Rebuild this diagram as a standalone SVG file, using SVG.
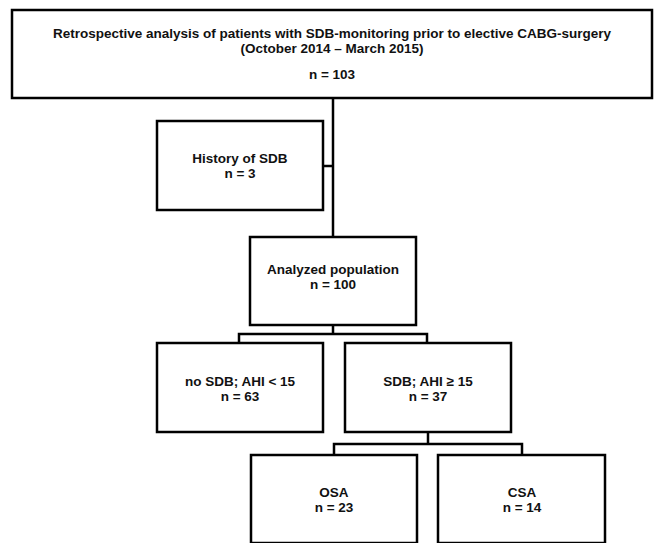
<svg xmlns="http://www.w3.org/2000/svg" width="655" height="543" viewBox="0 0 655 543">
<style>
.box{fill:#fff;stroke:#000;stroke-width:2.5}
.t{font-family:"Liberation Sans",Arial,sans-serif;font-weight:bold;font-size:13.5px;fill:#111;text-anchor:middle}
.c{fill:none;stroke:#000;stroke-width:2.5}
</style>
<rect width="655" height="543" fill="#fff"/>
<g id="connectors">
<path class="c" d="M333 98V237"/>
<path class="c" d="M323 166H333"/>
<path class="c" d="M333 325V334H239V343M333 334H427V343"/>
<path class="c" d="M428 432V444H334V455M428 444H522V455"/>
</g>
<g id="n-top">
<rect class="box" x="12" y="10" width="640" height="88"/>
<text class="t" x="332" y="38">Retrospective analysis of patients with SDB-monitoring prior to elective CABG-surgery</text>
<text class="t" x="332" y="53">(October 2014 – March 2015)</text>
<text class="t" x="332" y="79">n = 103</text>
</g>
<g id="n-history">
<rect class="box" x="157" y="121" width="166" height="89"/>
<text class="t" x="240" y="163">History of SDB</text>
<text class="t" x="240" y="178">n = 3</text>
</g>
<g id="n-analyzed">
<rect class="box" x="250" y="237" width="166" height="88"/>
<text class="t" x="333" y="274">Analyzed population</text>
<text class="t" x="333" y="289">n = 100</text>
</g>
<g id="n-nosdb">
<rect class="box" x="157" y="343" width="166" height="89"/>
<text class="t" x="240" y="386">no SDB; AHI &lt; 15</text>
<text class="t" x="240" y="401">n = 63</text>
</g>
<g id="n-sdb">
<rect class="box" x="345" y="343" width="166" height="89"/>
<text class="t" x="428" y="386">SDB; AHI ≥ 15</text>
<text class="t" x="428" y="401">n = 37</text>
</g>
<g id="n-osa">
<rect class="box" x="251" y="455" width="166" height="88"/>
<text class="t" x="334" y="497">OSA</text>
<text class="t" x="334" y="512">n = 23</text>
</g>
<g id="n-csa">
<rect class="box" x="438" y="455" width="167" height="88"/>
<text class="t" x="522" y="497">CSA</text>
<text class="t" x="522" y="512">n = 14</text>
</g>
</svg>
